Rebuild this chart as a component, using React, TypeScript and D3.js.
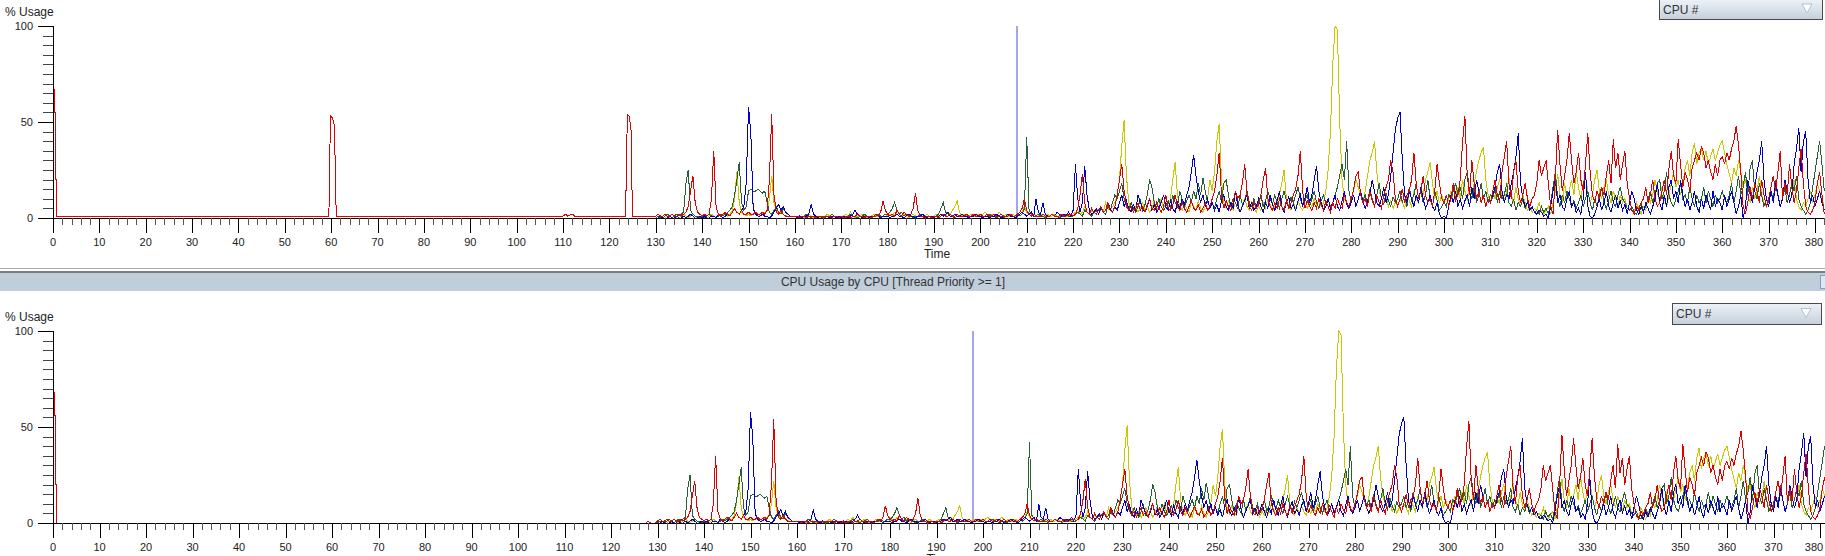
import React, { useEffect } from "react";
import * as d3 from "d3";

// ---------- DATA ----------
// Busy section: samples every 0.5 s starting at t = 130; each row covers 10 s (20 samples).
const BUSY_START = 130;
const BUSY_STEP = 0.5;

const redBlocks: number[][] = [
  /*130*/ [1, 2, 1, 1, 2, 1, 1, 2, 1, 1, 2, 1, 2, 3, 6, 14, 22, 8, 3, 2],
  /*140*/ [1, 2, 1, 2, 10, 35, 6, 2, 1, 2, 3, 2, 1, 3, 5, 3, 2, 4, 2, 2],
  /*150*/ [3, 2, 2, 3, 2, 2, 3, 2, 4, 20, 54, 12, 3, 2, 4, 2, 1, 1, 1, 1],
  /*160*/ [1, 1, 0, 1, 1, 0, 1, 1, 1, 0, 1, 1, 0, 1, 1, 1, 0, 1, 1, 0],
  /*170*/ [1, 0, 1, 1, 0, 1, 1, 2, 1, 1, 0, 1, 1, 0, 1, 2, 1, 3, 9, 4],
  /*180*/ [2, 1, 2, 1, 4, 2, 1, 3, 2, 1, 2, 5, 13, 4, 1, 1, 0, 1, 1, 0],
  /*190*/ [1, 1, 0, 1, 2, 1, 1, 2, 1, 1, 2, 1, 1, 1, 2, 1, 1, 2, 1, 1],
  /*200*/ [2, 1, 1, 2, 1, 1, 2, 1, 1, 2, 1, 1, 1, 2, 1, 1, 2, 3, 5, 10],
  /*210*/ [4, 2, 1, 2, 1, 1, 1, 2, 1, 1, 1, 2, 1, 1, 1, 2, 1, 1, 2, 2],
  /*220*/ [1, 2, 5, 12, 23, 8, 3, 2, 5, 3, 2, 4, 6, 3, 4, 8, 4, 3, 6, 12],
  /*230*/ [20, 28, 14, 7, 4, 6, 3, 5, 8, 4, 6, 3, 7, 10, 5, 4, 8, 5, 3, 6],
  /*240*/ [12, 5, 4, 7, 12, 6, 4, 8, 5, 3, 6, 9, 5, 4, 7, 3, 5, 8, 4, 6],
  /*250*/ [10, 14, 22, 34, 12, 5, 9, 6, 4, 8, 14, 10, 12, 18, 28, 14, 6, 4, 8, 5],
  /*260*/ [7, 12, 20, 26, 10, 6, 4, 8, 5, 10, 6, 4, 9, 5, 8, 12, 15, 22, 35, 14],
  /*270*/ [5, 9, 6, 4, 8, 5, 10, 7, 4, 9, 6, 3, 8, 5, 10, 7, 5, 12, 8, 6],
  /*280*/ [10, 15, 22, 24, 12, 8, 10, 6, 14, 9, 6, 12, 8, 5, 12, 16, 20, 30, 24, 10],
  /*290*/ [6, 10, 15, 8, 12, 14, 20, 34, 18, 10, 14, 22, 12, 8, 10, 6, 14, 28, 18, 10],
  /*300*/ [8, 12, 6, 10, 18, 9, 12, 20, 40, 53, 22, 12, 30, 18, 10, 14, 8, 12, 6, 10],
  /*310*/ [8, 14, 20, 12, 8, 24, 32, 40, 18, 10, 24, 30, 14, 8, 12, 18, 10, 6, 10, 12],
  /*320*/ [18, 30, 22, 26, 30, 18, 6, 2, 20, 46, 28, 14, 22, 30, 44, 30, 18, 24, 34, 20],
  /*330*/ [14, 28, 44, 24, 12, 8, 14, 10, 16, 12, 22, 30, 18, 41, 26, 34, 20, 28, 35, 18],
  /*340*/ [10, 4, 2, 6, 4, 8, 10, 16, 8, 12, 20, 10, 6, 8, 14, 20, 12, 26, 35, 22],
  /*350*/ [18, 41, 28, 16, 24, 20, 14, 26, 30, 34, 30, 37, 34, 26, 30, 24, 20, 28, 22, 30],
  /*360*/ [32, 28, 34, 30, 36, 40, 48, 38, 24, 6, 2, 8, 16, 10, 18, 14, 8, 20, 12, 6],
  /*370*/ [10, 16, 22, 14, 24, 35, 10, 18, 12, 28, 16, 8, 14, 26, 36, 18, 6, 3, 2, 4],
  /*380*/ [8, 18, 24, 12, 2],
];

const yellowBlocks: number[][] = [
  /*130*/ [0, 0, 1, 0, 0, 1, 0, 0, 1, 0, 0, 1, 2, 1, 0, 1, 2, 1, 0, 1],
  /*140*/ [0, 1, 0, 1, 2, 1, 0, 1, 2, 1, 3, 1, 2, 4, 10, 24, 8, 3, 2, 1],
  /*150*/ [2, 1, 2, 3, 2, 1, 2, 3, 4, 10, 22, 8, 4, 2, 3, 2, 1, 2, 1, 1],
  /*160*/ [1, 0, 1, 1, 0, 1, 2, 1, 0, 1, 1, 0, 1, 1, 2, 1, 0, 1, 1, 0],
  /*170*/ [1, 1, 2, 1, 3, 1, 0, 1, 1, 2, 1, 0, 1, 1, 2, 1, 1, 0, 1, 2],
  /*180*/ [1, 2, 1, 3, 2, 1, 1, 2, 1, 0, 1, 2, 1, 1, 2, 1, 1, 2, 1, 1],
  /*190*/ [1, 2, 1, 1, 2, 1, 3, 2, 4, 6, 9, 3, 1, 2, 1, 1, 2, 1, 1, 2],
  /*200*/ [1, 2, 3, 2, 1, 2, 2, 1, 3, 2, 1, 2, 1, 1, 2, 1, 1, 2, 3, 6],
  /*210*/ [3, 2, 1, 2, 1, 1, 2, 1, 1, 2, 1, 1, 2, 1, 1, 1, 2, 1, 1, 2],
  /*220*/ [2, 3, 4, 2, 3, 6, 3, 2, 4, 3, 5, 4, 6, 3, 8, 5, 4, 6, 8, 12],
  /*230*/ [20, 38, 51, 22, 8, 5, 4, 6, 3, 5, 8, 4, 6, 3, 5, 9, 4, 6, 10, 5],
  /*240*/ [8, 5, 10, 20, 29, 12, 6, 4, 7, 5, 3, 8, 6, 4, 9, 5, 3, 6, 10, 20],
  /*250*/ [14, 24, 40, 49, 20, 8, 5, 9, 6, 4, 8, 5, 3, 7, 10, 6, 4, 8, 5, 3],
  /*260*/ [6, 4, 8, 5, 10, 7, 4, 6, 8, 12, 18, 25, 10, 6, 4, 8, 5, 9, 6, 4],
  /*270*/ [7, 5, 8, 6, 10, 7, 9, 6, 8, 14, 25, 45, 80, 100, 98, 50, 20, 10, 8, 6],
  /*280*/ [10, 14, 20, 16, 12, 8, 14, 22, 30, 34, 40, 24, 14, 10, 8, 12, 6, 9, 5, 8],
  /*290*/ [6, 10, 8, 5, 12, 9, 6, 14, 10, 8, 16, 12, 20, 24, 29, 18, 10, 14, 8, 12],
  /*300*/ [8, 6, 10, 14, 8, 12, 16, 10, 20, 14, 9, 16, 12, 18, 24, 30, 34, 37, 20, 12],
  /*310*/ [8, 14, 10, 16, 20, 12, 9, 14, 21, 12, 8, 16, 10, 6, 12, 8, 4, 6, 3, 5],
  /*320*/ [4, 8, 3, 2, 4, 6, 2, 8, 14, 23, 12, 8, 18, 10, 14, 20, 12, 24, 16, 10],
  /*330*/ [18, 22, 14, 8, 12, 20, 25, 14, 10, 16, 20, 12, 8, 14, 10, 6, 12, 8, 10, 5],
  /*340*/ [4, 6, 3, 8, 5, 2, 6, 4, 10, 8, 12, 20, 14, 8, 16, 10, 6, 12, 18, 24],
  /*350*/ [16, 20, 12, 18, 26, 30, 22, 34, 39, 28, 34, 36, 30, 35, 28, 32, 36, 30, 34, 38],
  /*360*/ [40, 34, 28, 23, 18, 26, 22, 30, 24, 16, 20, 12, 8, 16, 10, 14, 22, 12, 8, 6],
  /*370*/ [10, 14, 8, 16, 12, 6, 10, 18, 14, 8, 12, 20, 10, 6, 4, 8, 6, 10, 14, 8],
  /*380*/ [12, 18, 14, 10, 6],
];

const greenBlocks: number[][] = [
  /*130*/ [0, 1, 0, 0, 1, 2, 1, 0, 1, 2, 1, 2, 3, 18, 25, 4, 2, 1, 1, 0],
  /*140*/ [1, 0, 1, 2, 1, 1, 0, 1, 2, 1, 2, 3, 4, 6, 12, 20, 29, 8, 4, 6],
  /*150*/ [14, 15, 14, 14, 15, 14, 13, 14, 8, 3, 2, 4, 6, 3, 2, 5, 3, 2, 1, 1],
  /*160*/ [1, 1, 0, 1, 1, 2, 1, 0, 1, 1, 0, 1, 1, 0, 1, 1, 2, 1, 0, 1],
  /*170*/ [1, 1, 0, 1, 2, 1, 1, 0, 1, 1, 2, 1, 1, 0, 1, 1, 2, 1, 1, 2],
  /*180*/ [2, 3, 5, 8, 4, 2, 3, 1, 2, 1, 1, 0, 1, 1, 2, 1, 0, 1, 1, 0],
  /*190*/ [1, 1, 2, 5, 8, 3, 2, 1, 1, 0, 1, 1, 2, 1, 1, 0, 1, 1, 2, 1],
  /*200*/ [1, 0, 1, 1, 2, 1, 1, 0, 1, 1, 0, 1, 1, 2, 1, 1, 2, 1, 2, 5],
  /*210*/ [42, 4, 2, 1, 1, 2, 1, 1, 0, 1, 1, 2, 1, 1, 0, 1, 1, 2, 1, 1],
  /*220*/ [1, 2, 3, 2, 1, 4, 3, 2, 1, 3, 4, 2, 5, 3, 2, 6, 4, 8, 12, 10],
  /*230*/ [14, 18, 10, 6, 4, 8, 5, 3, 6, 9, 4, 7, 12, 20, 16, 8, 5, 10, 6, 4],
  /*240*/ [6, 9, 5, 12, 8, 6, 14, 10, 6, 9, 12, 8, 14, 10, 18, 12, 21, 14, 8, 6],
  /*250*/ [8, 5, 10, 14, 8, 18, 20, 12, 6, 10, 8, 5, 12, 7, 9, 14, 8, 6, 10, 5],
  /*260*/ [8, 12, 6, 9, 14, 10, 7, 12, 8, 5, 10, 14, 9, 6, 11, 8, 12, 16, 10, 7],
  /*270*/ [9, 12, 6, 10, 14, 8, 5, 9, 12, 7, 10, 6, 8, 12, 16, 22, 28, 20, 40, 14],
  /*280*/ [8, 12, 6, 10, 14, 9, 12, 8, 15, 10, 6, 12, 18, 10, 7, 13, 9, 6, 11, 8],
  /*290*/ [10, 14, 8, 12, 6, 16, 9, 12, 18, 10, 14, 8, 12, 20, 10, 6, 14, 9, 4, 6],
  /*300*/ [8, 6, 12, 10, 14, 18, 12, 16, 10, 20, 24, 14, 10, 16, 8, 12, 18, 10, 14, 8],
  /*310*/ [12, 10, 16, 8, 14, 10, 12, 18, 8, 6, 10, 4, 8, 6, 10, 5, 8, 4, 6, 3],
  /*320*/ [4, 2, 6, 3, 5, 2, 8, 16, 24, 10, 6, 12, 8, 14, 10, 6, 9, 5, 8, 12],
  /*330*/ [6, 10, 14, 8, 4, 10, 6, 12, 16, 8, 5, 9, 14, 8, 6, 12, 16, 10, 8, 5],
  /*340*/ [4, 6, 3, 2, 5, 8, 4, 6, 10, 14, 8, 12, 18, 20, 10, 14, 24, 12, 8, 6],
  /*350*/ [10, 14, 18, 10, 12, 8, 16, 10, 6, 12, 8, 10, 16, 8, 14, 10, 6, 12, 8, 10],
  /*360*/ [14, 10, 8, 12, 18, 8, 14, 22, 12, 16, 24, 12, 26, 30, 14, 10, 18, 12, 6, 10],
  /*370*/ [8, 14, 10, 20, 12, 6, 10, 16, 8, 12, 18, 14, 22, 10, 6, 4, 2, 4, 8, 16],
  /*380*/ [24, 32, 40, 28, 14],
];

const blueBlocks: number[][] = [
  /*130*/ [0, 0, 1, 0, 0, 0, 1, 0, 0, 1, 0, 0, 1, 0, 1, 2, 1, 0, 0, 1],
  /*140*/ [0, 1, 0, 0, 1, 1, 0, 2, 1, 0, 1, 2, 1, 3, 5, 3, 2, 4, 6, 18],
  /*150*/ [58, 44, 5, 2, 1, 1, 2, 1, 1, 0, 1, 3, 5, 7, 4, 6, 3, 2, 1, 1],
  /*160*/ [1, 0, 1, 0, 1, 1, 2, 7, 2, 1, 0, 1, 0, 1, 1, 0, 1, 1, 0, 1],
  /*170*/ [0, 1, 1, 0, 1, 2, 4, 2, 1, 0, 1, 1, 0, 1, 1, 2, 1, 0, 1, 1],
  /*180*/ [1, 0, 1, 1, 2, 1, 1, 0, 1, 2, 1, 1, 0, 1, 1, 2, 1, 0, 1, 1],
  /*190*/ [0, 1, 1, 2, 1, 2, 3, 1, 1, 2, 1, 1, 2, 1, 1, 0, 1, 1, 2, 1],
  /*200*/ [1, 0, 1, 1, 0, 1, 1, 2, 1, 0, 1, 1, 2, 1, 1, 0, 1, 2, 3, 2],
  /*210*/ [1, 2, 3, 1, 10, 3, 2, 8, 2, 1, 1, 2, 1, 3, 2, 1, 2, 1, 3, 1],
  /*220*/ [4, 28, 10, 3, 8, 27, 12, 4, 2, 3, 5, 2, 6, 3, 4, 8, 5, 3, 6, 4],
  /*230*/ [8, 12, 6, 9, 5, 3, 7, 4, 12, 8, 5, 3, 6, 10, 4, 7, 3, 5, 8, 12],
  /*240*/ [6, 4, 9, 5, 3, 8, 5, 10, 7, 12, 16, 24, 33, 22, 14, 8, 12, 6, 10, 5],
  /*250*/ [8, 4, 7, 3, 9, 12, 6, 4, 8, 5, 14, 7, 3, 6, 9, 12, 5, 8, 4, 6],
  /*260*/ [10, 6, 3, 8, 5, 12, 7, 4, 9, 14, 6, 3, 8, 11, 5, 7, 4, 9, 12, 6],
  /*270*/ [10, 16, 8, 12, 20, 27, 14, 8, 4, 6, 10, 5, 8, 12, 6, 4, 9, 14, 7, 5],
  /*280*/ [8, 12, 6, 10, 14, 8, 5, 9, 12, 20, 14, 8, 6, 10, 16, 8, 12, 22, 34, 46],
  /*290*/ [52, 55, 30, 12, 8, 14, 10, 6, 12, 8, 16, 10, 5, 8, 12, 6, 4, 8, 2, 0],
  /*300*/ [1, 0, 6, 12, 8, 14, 6, 10, 5, 9, 12, 6, 16, 10, 20, 14, 8, 12, 6, 10],
  /*310*/ [8, 12, 16, 24, 28, 14, 8, 12, 10, 18, 24, 32, 44, 18, 10, 6, 8, 4, 6, 3],
  /*320*/ [2, 4, 3, 1, 2, 0, 6, 14, 20, 8, 12, 6, 4, 10, 14, 6, 8, 3, 5, 2],
  /*330*/ [10, 24, 6, 1, 0, 2, 6, 10, 4, 8, 14, 6, 3, 8, 12, 5, 9, 4, 7, 2],
  /*340*/ [8, 14, 10, 4, 2, 6, 3, 8, 5, 2, 6, 10, 18, 8, 4, 12, 6, 16, 20, 10],
  /*350*/ [14, 8, 20, 12, 6, 10, 4, 8, 14, 6, 3, 10, 5, 12, 8, 4, 14, 6, 10, 8],
  /*360*/ [4, 12, 6, 10, 14, 8, 2, 6, 12, 0, 6, 20, 14, 8, 16, 24, 30, 40, 20, 10],
  /*370*/ [6, 14, 8, 18, 12, 6, 10, 20, 14, 8, 12, 28, 36, 47, 24, 40, 45, 20, 8, 12],
  /*380*/ [6, 10, 14, 8, 4],
];

// Early (quiet) section of the red trace, [time, %] pairs
const redEarlyTop: [number, number][] = [
  [0, 73], [0.2, 73], [0.25, 55], [0.45, 55], [0.5, 20], [0.7, 20], [0.75, 1],
  [59.5, 1], [59.7, 35], [59.9, 53], [60.3, 52], [60.7, 48], [61, 10], [61.1, 1],
  [110, 1], [110.5, 2], [111, 1], [112, 2], [112.5, 1],
  [123.5, 1], [123.7, 35], [123.9, 54], [124.3, 53], [124.7, 45], [124.9, 10], [125, 1], [129.5, 1],
];
const redEarlyBottom: [number, number][] = [
  [0, 75], [0.2, 75], [0.25, 56], [0.45, 56], [0.5, 20], [0.7, 20], [0.75, 0],
  [127.5, 0], [128, 1], [128.5, 0], [129.5, 0],
];

const markerTimes = [207.7, 197.6]; // vertical marker in top / bottom panel
const seriesColors = { yellow: "#c8c800", green: "#2a5e34", blue: "#0000c8", red: "#e00000" };
const xMajorTicks = d3.range(0, 381, 10);
const xMinorTicks = d3.range(0, 383, 2).filter((t) => t % 10 !== 0);
const yMajorTicks = [0, 50, 100];
const yMinorTicks = d3.range(0, 101, 5).filter((v) => v % 50 !== 0);
const titleText = "CPU Usage by CPU [Thread Priority >= 1]";
const dropdownText = "CPU #";

// ---------- DRAWING ----------
type Pt = [number, number];
function busyPoints(blocks: number[][]): Pt[] {
  const pts: Pt[] = [];
  blocks.forEach((blk, b) =>
    blk.forEach((v, j) => pts.push([BUSY_START + b * 10 + j * BUSY_STEP, v]))
  );
  return pts;
}

const W = 1825;
const H = 556;
const FONT = "'Liberation Sans', Arial, sans-serif";

function Panel({ y0, y100, xEnd, marker, redEarly, id }: { y0: number; y100: number; xEnd: number; marker: number; redEarly: Pt[]; id: string }) {
  const x = d3.scaleLinear().domain([0, 380]).range([53, xEnd]);
  const y = d3.scaleLinear().domain([0, 100]).range([y0, y100]);
  const line = d3.line<Pt>().x((d) => x(d[0])).y((d) => y(d[1]));
  const series = [
    { c: seriesColors.yellow, pts: busyPoints(yellowBlocks) },
    { c: seriesColors.green, pts: busyPoints(greenBlocks) },
    { c: seriesColors.blue, pts: busyPoints(blueBlocks) },
    { c: seriesColors.red, pts: redEarly.concat(busyPoints(redBlocks)) },
  ];
  const xAxisLeft = x(0);
  const mx = Math.round(x(marker));
  return (
    <g>
      <text x={5} y={y100 - 10} fontSize={12} fontFamily={FONT} fill="#222">% Usage</text>
      <defs>
        <clipPath id={id}>
          <rect x={xAxisLeft - 1} y={y100 - 5} width={W - xAxisLeft + 1} height={y0 - y100 + 5} />
        </clipPath>
      </defs>
      <g clipPath={`url(#${id})`}>
        <rect x={mx} y={y(100)} width={2} height={y0 - y(100)} fill="#a4a4f0" />
        {series.map((s, i) => (
          <path key={i} d={line(s.pts) || ""} fill="none" stroke={s.c} strokeWidth={1} shapeRendering="crispEdges" />
        ))}
      </g>
      {/* y axis */}
      <line x1={xAxisLeft + 0.5} x2={xAxisLeft + 0.5} y1={y(100)} y2={y0 + 15} stroke="#000" shapeRendering="crispEdges" />
      {yMajorTicks.map((v) => (
        <g key={"ym" + v}>
          <line x1={xAxisLeft - 15} x2={xAxisLeft} y1={Math.round(y(v)) + 0.5} y2={Math.round(y(v)) + 0.5} stroke="#000" shapeRendering="crispEdges" />
          <text x={33} y={y(v) + 4} textAnchor="end" fontSize={11} fontFamily={FONT} fill="#222">{v}</text>
        </g>
      ))}
      {yMinorTicks.map((v) => (
        <line key={"yn" + v} x1={xAxisLeft - 10} x2={xAxisLeft} y1={Math.round(y(v)) + 0.5} y2={Math.round(y(v)) + 0.5} stroke="#444" shapeRendering="crispEdges" />
      ))}
      {/* x axis */}
      <line x1={xAxisLeft} x2={W} y1={y0 + 0.5} y2={y0 + 0.5} stroke="#000" shapeRendering="crispEdges" />
      {xMajorTicks.map((t) => (
        <g key={"xm" + t}>
          <line x1={Math.round(x(t)) + 0.5} x2={Math.round(x(t)) + 0.5} y1={y0} y2={y0 + 15} stroke="#000" shapeRendering="crispEdges" />
          <text x={Math.min(x(t), W - 11)} y={y0 + 28} textAnchor="middle" fontSize={11} fontFamily={FONT} fill="#222">{t}</text>
        </g>
      ))}
      {xMinorTicks.map((t) => (
        <line key={"xn" + t} x1={Math.round(x(t)) + 0.5} x2={Math.round(x(t)) + 0.5} y1={y0} y2={y0 + 7} stroke="#555" shapeRendering="crispEdges" />
      ))}
      <text x={x(190) + 3} y={y0 + 40} textAnchor="middle" fontSize={12} fontFamily={FONT} fill="#222">Time</text>
    </g>
  );
}

function Dropdown({ x, y, w, h }: { x: number; y: number; w: number; h: number }) {
  const ax = x + w - 15;
  const ay = y + h / 2;
  return (
    <g>
      <rect x={x + 0.5} y={y + 0.5} width={w} height={h} fill="url(#ddGrad)" stroke="#4a4a4a" shapeRendering="crispEdges" />
      <text x={x + 4} y={y + h / 2 + 4.5} fontSize={12} fontFamily={FONT} fill="#333">{dropdownText}</text>
      <path d={`M${ax - 5},${ay - 5} L${ax + 5},${ay - 5} L${ax},${ay + 4} Z`} fill="#ffffff" stroke="#aab4c0" strokeWidth={0.8} />
    </g>
  );
}

export default function App() {
  useEffect(() => {
    document.body.style.margin = "0";
  }, []);
  return (
    <svg width={W} height={H} style={{ position: "absolute", left: 0, top: 0, background: "#fff" }}>
      <defs>
        <linearGradient id="ddGrad" x1="0" y1="0" x2="0" y2="1">
          <stop offset="0" stopColor="#eef2f7" />
          <stop offset="1" stopColor="#c5d0dc" />
        </linearGradient>
      </defs>
      <rect x={0} y={0} width={W} height={H} fill="#fff" />
      <Panel id="clipTop" y0={218} y100={26} xEnd={1815} marker={markerTimes[0]} redEarly={redEarlyTop} />
      <Dropdown x={1659} y={-1} w={163} h={20} />

      {/* separator + title bar */}
      <rect x={0} y={268} width={W} height={1} fill="#a8a8a8" />
      <rect x={0} y={271} width={W} height={2} fill="#7c7c7c" />
      <rect x={0} y={273} width={W} height={18} fill="#c0cddb" />
      <text x={893} y={286} textAnchor="middle" fontSize={12} fontFamily={FONT} fill="#333">{titleText}</text>
      <rect x={1820.5} y={275.5} width={8} height={13} fill="#dfe8f2" stroke="#7d9fc8" />

      <Panel id="clipBottom" y0={523} y100={331} xEnd={1820} marker={markerTimes[1]} redEarly={redEarlyBottom} />
      <Dropdown x={1672} y={303} w={149} h={21} />
    </svg>
  );
}
